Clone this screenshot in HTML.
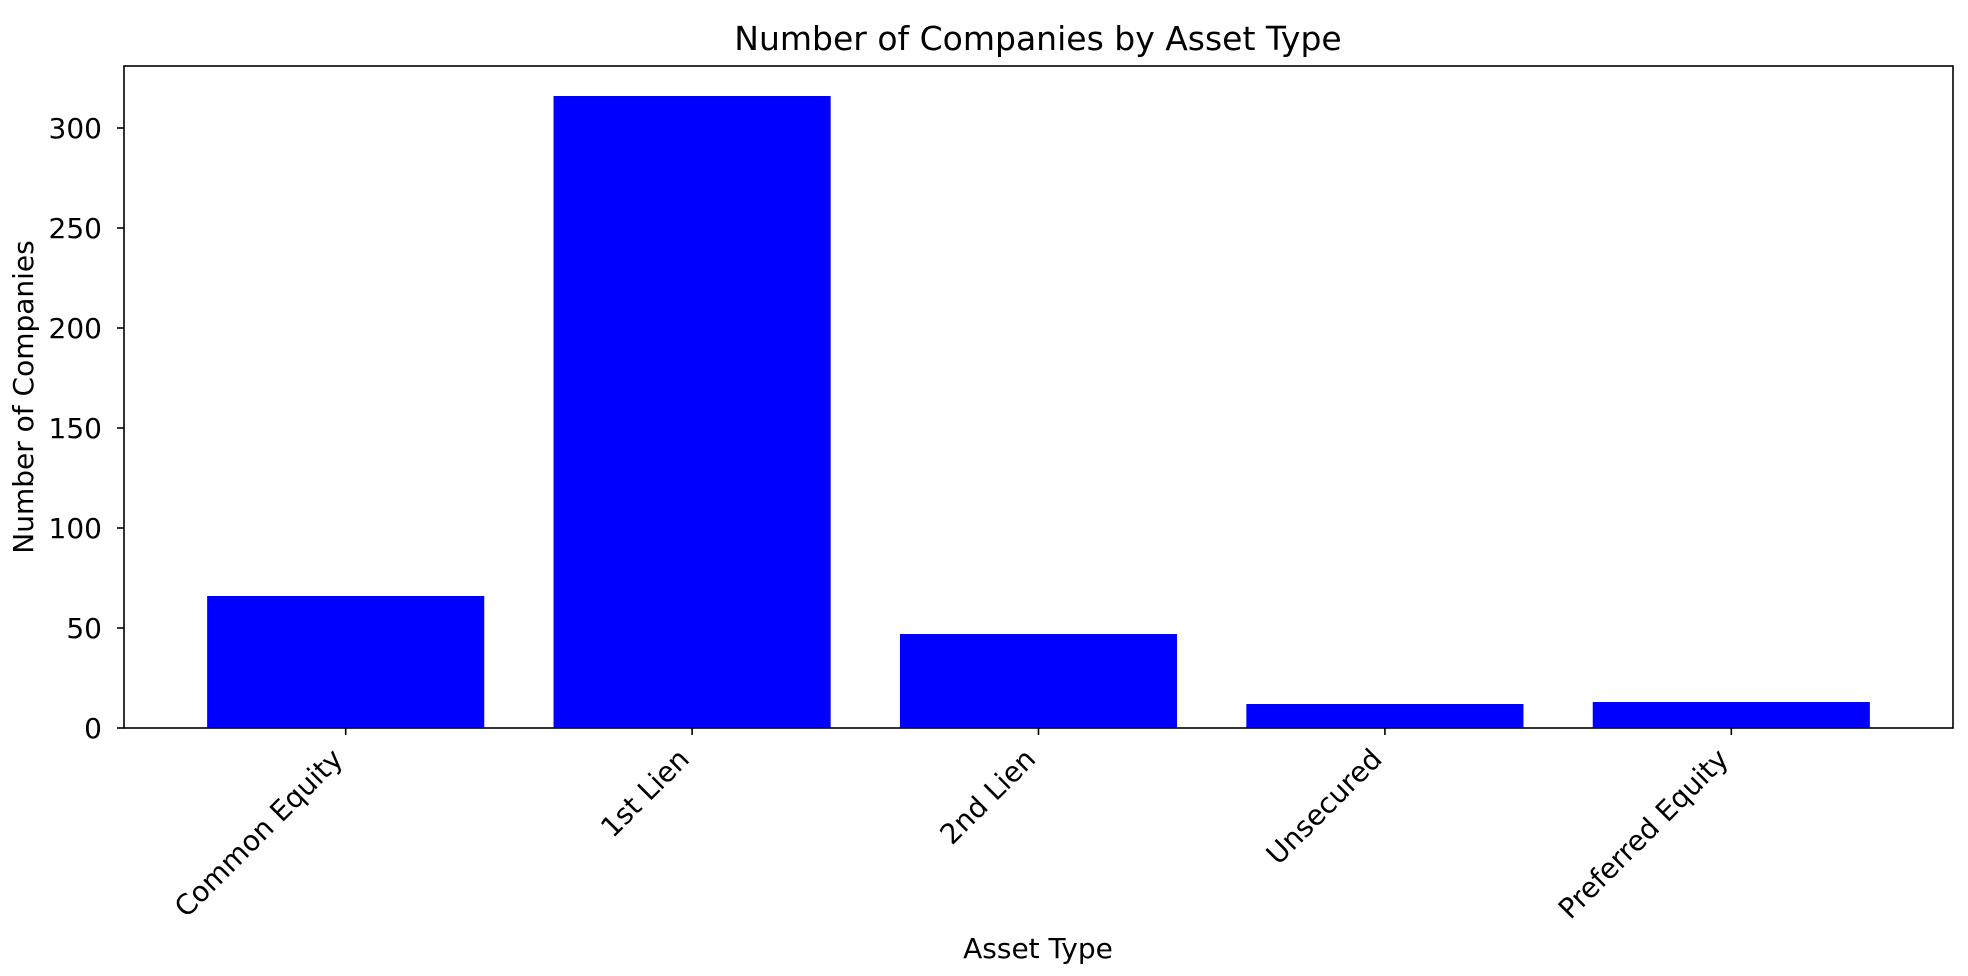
<!DOCTYPE html>
<html><head><meta charset="utf-8"><style>
html,body{margin:0;padding:0;background:#fff;}
svg{display:block;font-family:"DejaVu Sans","Liberation Sans",sans-serif;}
</style></head><body>
<svg id="chart" width="1968" height="976" viewBox="0 0 1968 976" xmlns="http://www.w3.org/2000/svg">
<rect width="1968" height="976" fill="#fff"/>
<text x="1038" y="50" font-size="33" text-anchor="middle">Number of Companies by Asset Type</text>
<g id="plot"></g>
<text x="1038" y="958" font-size="28" text-anchor="middle">Asset Type</text>
<text transform="translate(33,397) rotate(-90)" font-size="28" text-anchor="middle">Number of Companies</text>
</svg>
<script>
const categories = ["Common Equity","1st Lien","2nd Lien","Unsecured","Preferred Equity"];
const values = [66,316,47,12,13];
const yTicks = [0,50,100,150,200,250,300];

const L=124,R=1953,T=66,B=728;
const xMin=-0.64,xMax=4.64,yMin=0,yMax=331;
const xs=i=>L+(i-xMin)/(xMax-xMin)*(R-L);
const ys=v=>B-(v-yMin)/(yMax-yMin)*(B-T);
const NS="http://www.w3.org/2000/svg";
const g=document.getElementById('plot');
function mk(tag,attrs){const e=document.createElementNS(NS,tag);for(const k in attrs)e.setAttribute(k,attrs[k]);g.appendChild(e);return e;}
const bw=(xs(1)-xs(0))*0.8;
values.forEach((v,i)=>{
  const r=mk('rect',{x:xs(i)-bw/2,y:ys(v),width:bw,height:ys(0)-ys(v),fill:'#0000ff'});
  
  
});
const frame=mk('rect',{x:L,y:T,width:R-L,height:B-T,fill:'none',stroke:'#000','stroke-width':1.6});


yTicks.forEach(t=>{
  const y=ys(t);
  const tk=mk('line',{x1:L-7,x2:L,y1:y,y2:y,stroke:'#000','stroke-width':1.6});
  
  
  const lb=mk('text',{x:L-22,y:y+10,'font-size':28,'text-anchor':'end'});
  lb.textContent=t;
  
  
});
categories.forEach((c,i)=>{
  const x=xs(i);
  const tk=mk('line',{x1:x,x2:x,y1:B,y2:B+7,stroke:'#000','stroke-width':1.6});
  
  
  const lb=mk('text',{transform:`translate(${x-16},${B+18}) rotate(-45)`,'font-size':28,'text-anchor':'end','dominant-baseline':'hanging'});
  lb.textContent=c;
  
  
});
</script>
</body></html>
